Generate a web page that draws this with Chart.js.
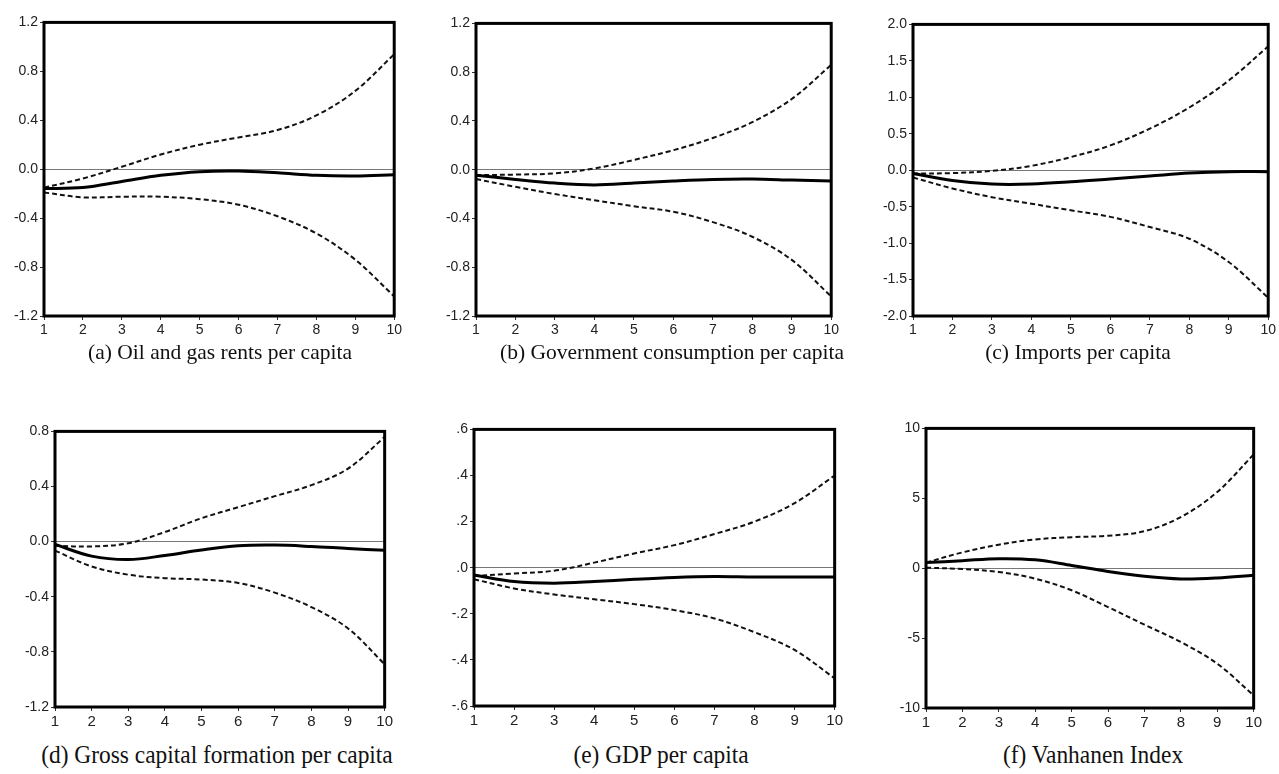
<!DOCTYPE html>
<html>
<head>
<meta charset="utf-8">
<script src="https://cdn.jsdelivr.net/npm/chart.js@4.4.1/dist/chart.umd.min.js"></script>
<style>
  body { margin: 0; background: #fff; width: 1279px; height: 774px; position: relative; overflow: hidden; }
  .panel { position: absolute; }
  .caption { position: absolute; font-family: "Liberation Serif", "Times New Roman", serif; color: #111; white-space: nowrap; transform: translateX(-50%); }
  .top { font-size: 21.5px; }
  .bottom { font-size: 26px; transform: translateX(-50%) scaleX(0.9); transform-origin: center; }
</style>
</head>
<body>
<script>
// horizon 1..10
const periods = ['1', '2', '3', '4', '5', '6', '7', '8', '9', '10'];

// (a) Oil and gas rents per capita
const oilMid = [-0.158, -0.15, -0.10, -0.05, -0.02, -0.015, -0.03, -0.05, -0.055, -0.045];
const oilUp = [-0.15, -0.076, 0.02, 0.12, 0.20, 0.26, 0.32, 0.44, 0.64, 0.94];
const oilLow = [-0.19, -0.23, -0.225, -0.225, -0.245, -0.29, -0.385, -0.525, -0.74, -1.04];

// (b) Government consumption per capita
const govMid = [-0.045, -0.08, -0.11, -0.125, -0.11, -0.093, -0.08, -0.077, -0.085, -0.093];
const govUp = [-0.045, -0.04, -0.03, 0.01, 0.08, 0.16, 0.26, 0.39, 0.58, 0.86];
const govLow = [-0.077, -0.14, -0.20, -0.25, -0.30, -0.345, -0.43, -0.55, -0.74, -1.04];

// (c) Imports per capita
const impMid = [-0.045, -0.14, -0.19, -0.19, -0.16, -0.12, -0.08, -0.04, -0.02, -0.02];
const impUp = [-0.045, -0.04, -0.01, 0.06, 0.18, 0.34, 0.57, 0.86, 1.23, 1.70];
const impLow = [-0.10, -0.25, -0.37, -0.46, -0.55, -0.64, -0.78, -0.94, -1.26, -1.75];

// (d) Gross capital formation per capita
const gcfMid = [-0.02, -0.105, -0.13, -0.10, -0.06, -0.03, -0.025, -0.035, -0.05, -0.063];
const gcfUp = [-0.03, -0.035, -0.012, 0.07, 0.17, 0.25, 0.33, 0.41, 0.53, 0.76];
const gcfLow = [-0.065, -0.18, -0.24, -0.265, -0.275, -0.30, -0.37, -0.475, -0.63, -0.89];

// (e) GDP per capita
const gdpMid = [-0.032, -0.06, -0.067, -0.06, -0.05, -0.042, -0.038, -0.04, -0.04, -0.04];
const gdpUp = [-0.036, -0.025, -0.013, 0.022, 0.062, 0.098, 0.146, 0.20, 0.28, 0.40];
const gdpLow = [-0.05, -0.09, -0.116, -0.137, -0.158, -0.184, -0.22, -0.28, -0.357, -0.48];

// (f) Vanhanen Index
const vanMid = [0.4, 0.54, 0.68, 0.6, 0.2, -0.23, -0.58, -0.77, -0.7, -0.5];
const vanUp = [0.4, 1.13, 1.68, 2.06, 2.22, 2.32, 2.65, 3.66, 5.45, 8.14];
const vanLow = [0.04, -0.06, -0.27, -0.75, -1.58, -2.78, -4.04, -5.28, -6.83, -9.1];

// y tick values and their labels
const ticksA = [-1.2, -0.8, -0.4, 0, 0.4, 0.8, 1.2];
const labelsA = ['-1.2', '-0.8', '-0.4', '0.0', '0.4', '0.8', '1.2'];
const ticksC = [-2, -1.5, -1, -0.5, 0, 0.5, 1, 1.5, 2];
const labelsC = ['-2.0', '-1.5', '-1.0', '-0.5', '0.0', '0.5', '1.0', '1.5', '2.0'];
const ticksD = [-1.2, -0.8, -0.4, 0, 0.4, 0.8];
const labelsD = ['-1.2', '-0.8', '-0.4', '0.0', '0.4', '0.8'];
const ticksE = [-0.6, -0.4, -0.2, 0, 0.2, 0.4, 0.6];
const labelsE = ['-.6', '-.4', '-.2', '.0', '.2', '.4', '.6'];
const ticksF = [-10, -5, 0, 5, 10];
const labelsF = ['-10', '-5', '0', '5', '10'];

const AXIS_W = 50, AXIS_H = 30, PAD_T = 10, PAD_R = 6;

// thick frame round the plot area
const framePlugin = {
    id: 'frame',
    afterDatasetsDraw(chart) {
        const a = chart.chartArea;
        const ctx = chart.ctx;
        ctx.save();
        ctx.strokeStyle = '#000';
        ctx.lineWidth = 3;
        ctx.strokeRect(a.left, a.top, a.right - a.left, a.bottom - a.top);
        ctx.restore();
    }
};

function makePanel(plot, caption, capX, capY, row, mid, up, low, yTicks, yLabels) {
    const canvas = document.createElement('canvas');
    const w = plot.r - plot.l + AXIS_W + PAD_R;
    const h = plot.b - plot.t + PAD_T + AXIS_H;
    canvas.width = w;
    canvas.height = h;
    canvas.className = 'panel';
    canvas.style.left = (plot.l - AXIS_W) + 'px';
    canvas.style.top = (plot.t - PAD_T) + 'px';
    canvas.style.width = w + 'px';
    canvas.style.height = h + 'px';
    document.body.appendChild(canvas);

    const cap = document.createElement('div');
    cap.className = 'caption ' + row;
    cap.textContent = caption;
    cap.style.left = capX + 'px';
    cap.style.top = capY + 'px';
    document.body.appendChild(cap);

    const xFont = row === 'bottom'
        ? { family: '"Liberation Sans Narrow", "Liberation Sans", Arial, sans-serif', size: 15 }
        : { family: '"Liberation Sans", Arial, sans-serif', size: 14 };

    const dashed = (data) => ({
        data: data,
        borderColor: '#111',
        borderWidth: 2,
        borderDash: [5, 3],
        pointRadius: 0,
        tension: 0.35,
        fill: false
    });

    new Chart(canvas.getContext('2d'), {
        type: 'line',
        data: {
            labels: periods,
            datasets: [
                { data: mid, borderColor: '#000', borderWidth: 3, pointRadius: 0, tension: 0.35, fill: false },
                dashed(up),
                dashed(low)
            ]
        },
        plugins: [framePlugin],
        options: {
            responsive: false,
            animation: false,
            events: [],
            layout: { padding: { top: PAD_T, right: PAD_R, left: 0, bottom: 0 } },
            plugins: { legend: { display: false }, tooltip: { enabled: false } },
            scales: {
                x: {
                    offset: false,
                    afterFit: function(scale) { scale.height = AXIS_H; },
                    border: { display: false },
                    grid: { drawOnChartArea: false, color: '#333', tickLength: 4 },
                    ticks: { color: '#222', font: xFont, padding: 2, maxRotation: 0, autoSkip: false }
                },
                y: {
                    min: yTicks[0],
                    max: yTicks[yTicks.length - 1],
                    afterFit: function(scale) { scale.width = AXIS_W; },
                    afterBuildTicks: function(scale) {
                        scale.ticks = yTicks.map(v => ({ value: v }));
                    },
                    border: { display: false },
                    grid: {
                        color: function(c) { return c.tick && c.tick.value === 0 ? '#777' : 'rgba(0,0,0,0)'; },
                        tickColor: '#333',
                        tickLength: 4,
                        lineWidth: 1
                    },
                    ticks: {
                        color: '#222',
                        font: { family: '"Liberation Sans", Arial, sans-serif', size: 14 },
                        padding: 2,
                        callback: function(value, index) { return yLabels[index]; }
                    }
                }
            }
        }
    });
}

makePanel({ l: 44, t: 22, r: 398, b: 316 }, '(a) Oil and gas rents per capita', 220, 340, 'top',
    oilMid, oilUp, oilLow, ticksA, labelsA);
makePanel({ l: 476, t: 23, r: 835, b: 316 }, '(b) Government consumption per capita', 672, 340, 'top',
    govMid, govUp, govLow, ticksA, labelsA);
makePanel({ l: 913, t: 24, r: 1272, b: 316 }, '(c) Imports per capita', 1078, 340, 'top',
    impMid, impUp, impLow, ticksC, labelsC);
makePanel({ l: 55, t: 431, r: 389, b: 707 }, '(d) Gross capital formation per capita', 217, 740, 'bottom',
    gcfMid, gcfUp, gcfLow, ticksD, labelsD);
makePanel({ l: 474, t: 429, r: 839, b: 706 }, '(e) GDP per capita', 661, 740, 'bottom',
    gdpMid, gdpUp, gdpLow, ticksE, labelsE);
makePanel({ l: 926, t: 428, r: 1258, b: 708 }, '(f) Vanhanen Index', 1093, 740, 'bottom',
    vanMid, vanUp, vanLow, ticksF, labelsF);
</script>
</body>
</html>
